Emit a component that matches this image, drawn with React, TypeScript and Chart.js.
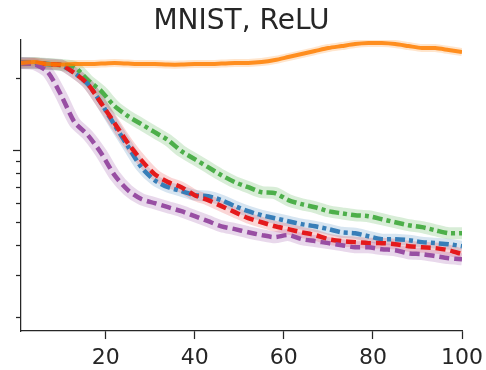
import React, { useEffect, useRef } from "react";
import { Chart, registerables } from "chart.js";

Chart.register(...registerables);

const epochs = [1, 4, 7, 10, 13, 16, 19, 22, 25, 28, 31, 34, 37, 40, 43, 46, 49, 52, 55, 58, 61, 64, 67, 70, 73, 76, 79, 82, 85, 88, 91, 94, 97, 100];

const orangeVals = [2.321, 2.343, 2.298, 2.287, 2.298, 2.298, 2.309, 2.321, 2.309, 2.298, 2.298, 2.287, 2.287, 2.298, 2.298, 2.309, 2.321, 2.321, 2.343, 2.389, 2.459, 2.532, 2.606, 2.683, 2.735, 2.789, 2.816, 2.816, 2.789, 2.735, 2.683, 2.683, 2.632, 2.581];
const greenVals = [2.321, 2.321, 2.298, 2.276, 2.232, 1.968, 1.769, 1.531, 1.389, 1.286, 1.19, 1.102, 0.99, 0.917, 0.848, 0.785, 0.734, 0.699, 0.666, 0.66, 0.617, 0.593, 0.576, 0.554, 0.543, 0.533, 0.528, 0.513, 0.498, 0.484, 0.475, 0.461, 0.448, 0.448];
const blueVals = [2.321, 2.321, 2.298, 2.276, 2.107, 1.894, 1.575, 1.274, 1.039, 0.848, 0.748, 0.699, 0.673, 0.647, 0.641, 0.617, 0.582, 0.554, 0.533, 0.518, 0.503, 0.489, 0.479, 0.466, 0.452, 0.448, 0.435, 0.423, 0.423, 0.419, 0.411, 0.407, 0.403, 0.395];
const redVals = [2.321, 2.321, 2.298, 2.276, 2.107, 1.894, 1.575, 1.298, 1.07, 0.908, 0.793, 0.734, 0.699, 0.647, 0.617, 0.582, 0.549, 0.518, 0.498, 0.479, 0.466, 0.452, 0.44, 0.423, 0.415, 0.411, 0.407, 0.407, 0.403, 0.395, 0.391, 0.388, 0.38, 0.366];
const purpleVals = [2.321, 2.298, 2.127, 1.703, 1.311, 1.156, 0.971, 0.785, 0.679, 0.623, 0.599, 0.576, 0.554, 0.528, 0.503, 0.479, 0.466, 0.452, 0.44, 0.431, 0.44, 0.423, 0.415, 0.407, 0.399, 0.391, 0.391, 0.384, 0.38, 0.369, 0.366, 0.359, 0.352, 0.348];

const xTicks = [20, 40, 60, 80, 100];
const yMajorTicks = [1];
const yMinorTicks = [2, 0.9, 0.8, 0.7, 0.6, 0.5, 0.4, 0.3, 0.2];

const AXIS = "#262626";

const yTickPlugin = {
  id: "yTicks",
  afterDraw(chart: any) {
    const ctx = chart.ctx;
    const y = chart.scales.y;
    const left = chart.chartArea.left;
    ctx.save();
    ctx.strokeStyle = AXIS;
    ctx.lineWidth = 1.25;
    const draw = (v: number, len: number) => {
      const py = Math.round(y.getPixelForValue(v)) + 0.5;
      ctx.beginPath();
      ctx.moveTo(left - len, py);
      ctx.lineTo(left, py);
      ctx.stroke();
    };
    yMajorTicks.forEach((v) => draw(v, 8));
    yMinorTicks.forEach((v) => draw(v, 5));
    ctx.restore();
  },
};

function line(label: string, data: number[], color: string, dash: number[], width: number) {
  return {
    label,
    data,
    borderColor: color,
    borderWidth: width,
    borderDash: dash,
    borderCapStyle: "butt",
    borderJoinStyle: "round",
    pointRadius: 0,
    tension: 0.25,
    fill: false,
  };
}

export default function App() {
  const ref = useRef<HTMLCanvasElement>(null);
  useEffect(() => {
    if (!ref.current) return;
    Chart.defaults.font.family = "DejaVu Sans";
    const chart = new Chart(ref.current, {
      type: "line",
      data: {
        labels: epochs,
        datasets: [
          line("orange", orangeVals, "rgba(255,127,0,0.85)", [], 4),
          line("purple", purpleVals, "#984ea3", [10, 5], 4.5),
          line("red", redVals, "#e41a1c", [10, 5], 4.5),
          line("blue", blueVals, "#377eb8", [10, 4, 4, 4], 4.5),
          line("green", greenVals, "#4daf4a", [10, 4, 4, 4], 4.5),
          line("orangeBand", orangeVals, "rgba(255,127,0,0.2)", [], 8),
          line("purpleBand", purpleVals, "rgba(152,78,163,0.22)", [], 12),
          line("redBand", redVals, "rgba(228,26,28,0.18)", [], 11),
          line("blueBand", blueVals, "rgba(55,126,184,0.2)", [], 11),
          line("greenBand", greenVals, "rgba(77,175,74,0.22)", [], 12),
        ] as any,
      },
      options: {
        animation: false,
        responsive: false,
        devicePixelRatio: 1,
        layout: { padding: { left: 21, right: 24, top: 0, bottom: -7.6 } },
        plugins: {
          legend: { display: false },
          tooltip: { enabled: false },
          title: {
            display: true,
            text: "MNIST, ReLU",
            color: AXIS,
            font: { size: 28, weight: "normal", family: "DejaVu Sans" },
            padding: { top: 5, bottom: 1.4 },
          },
        },
        scales: {
          x: {
            type: "linear",
            min: 1,
            max: 100,
            afterBuildTicks: (s: any) => {
              s.ticks = xTicks.map((v) => ({ value: v }));
            },
            ticks: {
              color: AXIS,
              font: { size: 22, family: "DejaVu Sans", lineHeight: 1.48 },
              padding: 3,
              maxRotation: 0,
              autoSkip: false,
            },
            grid: {
              drawOnChartArea: false,
              drawTicks: true,
              tickLength: 8,
              tickColor: AXIS,
              tickWidth: 1.25,
            },
            border: { display: true, color: AXIS, width: 1.25 },
          },
          y: {
            type: "logarithmic",
            min: 0.174,
            max: 2.9,
            ticks: { display: false },
            grid: { drawOnChartArea: false, drawTicks: false },
            border: { display: true, color: AXIS, width: 1.25 },
          },
        },
      } as any,
      plugins: [yTickPlugin],
    });
    return () => chart.destroy();
  }, []);
  return (
    <div style={{ position: "fixed", left: 0, top: 0, width: 486, height: 370, background: "#fff" }}>
      <canvas ref={ref} width={486} height={370} style={{ display: "block" }} />
    </div>
  );
}
